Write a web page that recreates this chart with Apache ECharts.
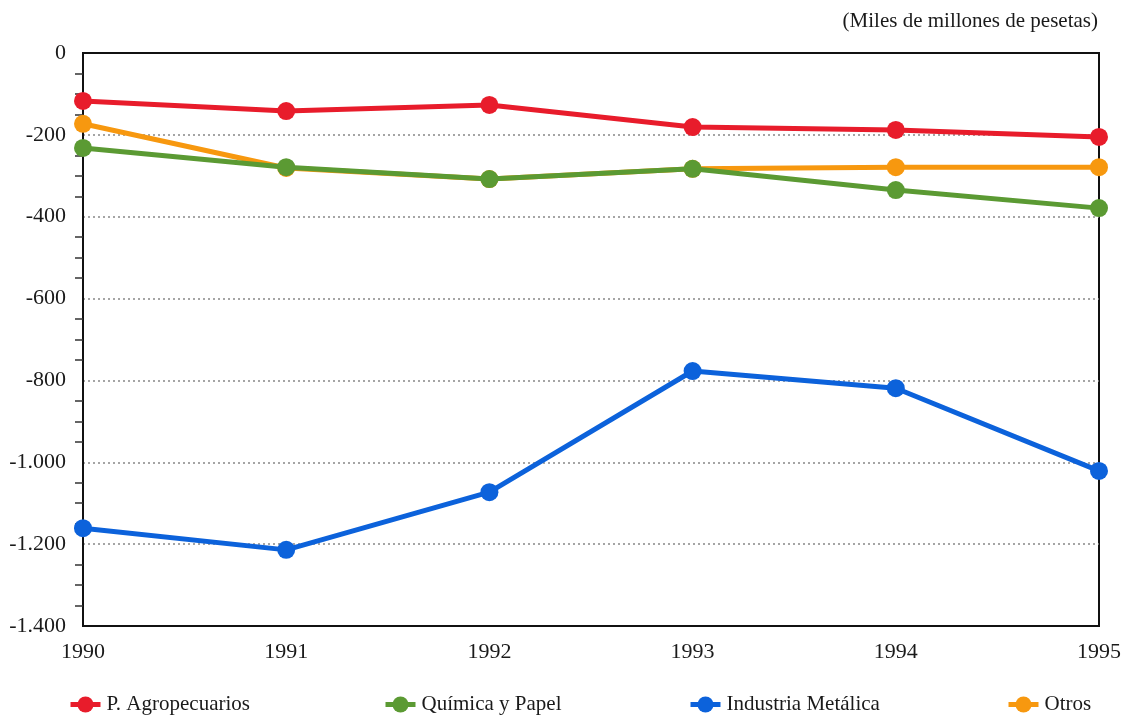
<!DOCTYPE html>
<html>
<head>
<meta charset="utf-8">
<script src="https://cdn.jsdelivr.net/npm/echarts@6/dist/echarts.min.js"></script>
<style>
html,body{margin:0;padding:0;background:#fff;}
#chart{width:1124px;height:715px;}
</style>
</head>
<body>
<div id="chart"></div>
<script>
const years = ['1990','1991','1992','1993','1994','1995'];
const agropecuarios = [-117, -142, -127, -181, -188, -205];
const quimicaPapel = [-232, -279, -308, -283, -335, -379];
const industriaMetalica = [-1161, -1214, -1073, -777, -819, -1021];
const otros = [-173, -281, -308, -283, -279, -279];
const unitLabel = '(Miles de millones de pesetas)';

const FONT = '"Liberation Serif", "DejaVu Serif", serif';
const colors = {red:'#e81c2b', green:'#5b9a33', blue:'#0c62db', orange:'#f7980f'};

function fmt(v){
  const neg = v < 0;
  let s = String(Math.abs(v));
  s = s.replace(/\B(?=(\d{3})+(?!\d))/g, '.');
  return (neg ? '-' : '') + s;
}

function series(name, data, color, z){
  return {
    name, type:'line', data, z,
    symbol:'circle', symbolSize:18,
    lineStyle:{width:5, color},
    itemStyle:{color},
    emphasis:{disabled:true},
    animation:false
  };
}

function legend(name, left){
  return {
    data:[name], left, top:689,
    itemWidth:30, itemHeight:20, itemGap:0,
    lineStyle:{width:5},
    textStyle:{fontFamily:FONT, fontSize:21, color:'#1a1a1a', padding:[0,0,0,1]},
    selectedMode:false
  };
}

const chart = echarts.init(document.getElementById('chart'));
chart.setOption({
  backgroundColor:'#fff',
  animation:false,
  title:{
    text:unitLabel, right:21, top:6,
    textStyle:{fontFamily:FONT, fontSize:21, fontWeight:'normal', color:'#1a1a1a'}
  },
  legend:[
    legend('P. Agropecuarios', 63),
    legend('Química y Papel', 378),
    legend('Industria Metálica', 683),
    legend('Otros', 1001)
  ],
  grid:{left:83, right:23, top:53, bottom:89, show:true, borderColor:'#111', borderWidth:2, backgroundColor:'transparent'},
  xAxis:[{
    type:'category', data:years, boundaryGap:false, z:1,
    axisLine:{show:true, onZero:false, lineStyle:{color:'#111', width:2}},
    axisTick:{show:false},
    axisLabel:{fontFamily:FONT, fontSize:22, color:'#1a1a1a', margin:15},
    splitLine:{show:false}
  },{
    type:'category', data:years, boundaryGap:false, z:1, position:'top',
    axisLine:{show:true, onZero:false, lineStyle:{color:'#111', width:2}},
    axisTick:{show:false},
    axisLabel:{show:false},
    splitLine:{show:false}
  }],
  yAxis:{
    type:'value', min:-1400, max:0, interval:200, z:0,
    axisLine:{show:true, onZero:false, lineStyle:{color:'#111', width:2}},
    axisTick:{show:false},
    minorTick:{show:true, splitNumber:4, length:8, lineStyle:{color:'#333', width:1.5}},
    axisLabel:{fontFamily:FONT, fontSize:22, color:'#1a1a1a', margin:17, formatter:fmt},
    splitLine:{show:true, lineStyle:{color:'#888', type:[2,3], width:1.5}},
    minorSplitLine:{show:false}
  },
  series:[
    series('Otros', otros, colors.orange, 2),
    series('Química y Papel', quimicaPapel, colors.green, 3),
    series('Industria Metálica', industriaMetalica, colors.blue, 4),
    series('P. Agropecuarios', agropecuarios, colors.red, 5)
  ]
});
</script>
</body>
</html>
